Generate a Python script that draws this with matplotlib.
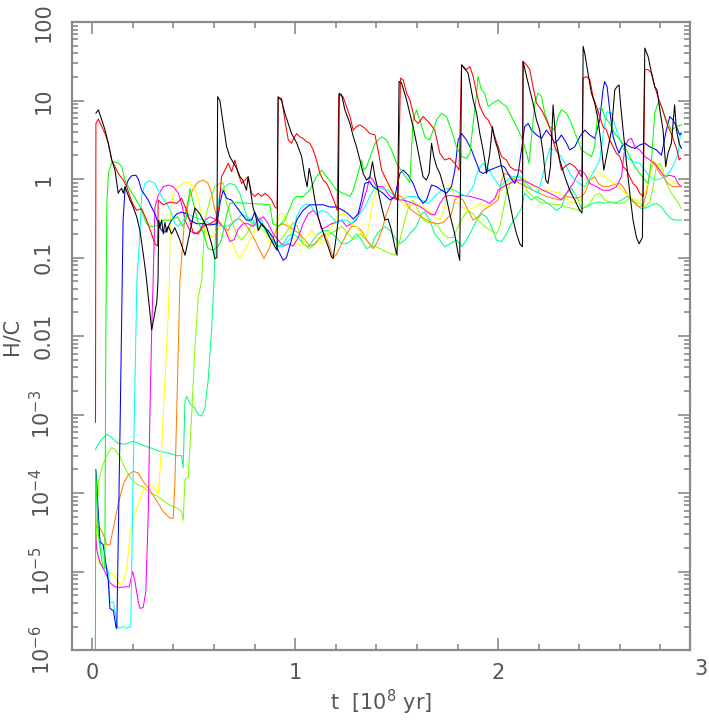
import matplotlib
matplotlib.use("Agg")
import matplotlib.pyplot as plt
import matplotlib.transforms as mtransforms
from matplotlib.ticker import FixedLocator, FixedFormatter, MultipleLocator, NullFormatter
import numpy as np

# ---------------- data (t in 1e8 yr, H/C) ----------------
black_t = [0.018, 0.03, 0.047, 0.063, 0.079, 0.096, 0.112, 0.128, 0.136, 0.145, 0.153, 0.161, 0.186, 0.202,
           0.219, 0.235, 0.251, 0.264, 0.293, 0.318, 0.324, 0.328, 0.333, 0.342, 0.35, 0.358, 0.367, 0.375,
           0.391, 0.407, 0.432, 0.457, 0.49, 0.506, 0.53, 0.563, 0.588, 0.604, 0.614, 0.618, 0.629, 0.645,
           0.662, 0.678, 0.693, 0.711, 0.728, 0.742, 0.76, 0.768, 0.777, 0.792, 0.81, 0.818, 0.834, 0.851,
           0.875, 0.9, 0.911, 0.916, 0.933, 0.949, 0.966, 0.982, 1.007, 1.032, 1.048, 1.059, 1.069, 1.081,
           1.097, 1.113, 1.13, 1.146, 1.163, 1.179, 1.187, 1.2, 1.212, 1.217, 1.229, 1.245, 1.27, 1.286,
           1.302, 1.319, 1.335, 1.352, 1.368, 1.381, 1.393, 1.401, 1.426, 1.442, 1.458, 1.475, 1.491, 1.502,
           1.512, 1.524, 1.549, 1.565, 1.581, 1.598, 1.614, 1.63, 1.647, 1.66, 1.672, 1.683, 1.697, 1.713,
           1.737, 1.762, 1.786, 1.803, 1.811, 1.82, 1.852, 1.877, 1.894, 1.91, 1.926, 1.934, 1.943, 1.959,
           1.972, 1.984, 2.0, 2.017, 2.041, 2.058, 2.074, 2.091, 2.107, 2.12, 2.123, 2.14, 2.156, 2.172,
           2.189, 2.205, 2.222, 2.235, 2.246, 2.258, 2.271, 2.284, 2.304, 2.329, 2.353, 2.378, 2.402, 2.414,
           2.419, 2.427, 2.443, 2.46, 2.476, 2.493, 2.509, 2.521, 2.537, 2.559, 2.575, 2.586, 2.596, 2.603,
           2.616, 2.633, 2.649, 2.665, 2.682, 2.695, 2.711, 2.723, 2.739, 2.756, 2.772, 2.783, 2.797, 2.813,
           2.826, 2.837, 2.854, 2.87, 2.879, 2.892, 2.903]
black_v = [6.9, 7.6, 5.66, 4.2, 2.86, 1.75, 1.3, 0.66, 0.72, 0.76, 0.66, 0.8, 0.54, 0.44,
           0.33, 0.22, 0.113, 0.063, 0.012, 0.027, 0.05, 0.3, 0.24, 0.3, 0.2, 0.28, 0.21, 0.25,
           0.2, 0.24, 0.167, 0.107, 0.27, 0.43, 0.36, 0.25, 0.15, 0.097, 0.1, 11.2, 10, 5.1,
           2.6, 1.93, 1.66, 1.38, 1.07, 0.97, 0.72, 1.07, 0.8, 0.44, 0.3, 0.22, 0.27, 0.24,
           0.18, 0.137, 0.124, 11.2, 10, 6.9, 5.1, 3.8, 2.9, 1.93, 1.07, 0.8, 1.37, 0.97,
           0.54, 0.33, 0.24, 0.18, 0.137, 0.102, 0.097, 0.167, 0.3, 12.4, 11.8, 7.6, 5.1, 3.5,
           2.6, 1.75, 1.18, 0.97, 1.07, 1.66, 1.07, 0.88, 0.44, 0.3, 0.31, 0.22, 0.137, 0.107,
           17.5, 16.7, 10.2, 6.9, 4.65, 2.86, 1.75, 1.07, 0.97, 1.18, 2.86, 1.93, 1.44, 1.18,
           0.72, 0.36, 0.2, 0.113, 0.092, 28.5, 22.4, 10.2, 6.9, 3.8, 2.35, 1.75, 1.18, 2.13,
           4.65, 3.15, 2.35, 1.44, 0.8, 0.49, 0.3, 0.2, 0.15, 0.137, 31.5, 20.3, 13.7, 9.3,
           5.66, 4.2, 2.13, 0.97, 0.88, 1.44, 8.8, 3.15, 1.75, 1.07, 0.72, 0.54, 0.4, 0.37,
           49, 40, 22.4, 12.4, 9.3, 5.66, 2.6, 1.3, 2.13, 4.2, 13.7, 15, 15.8, 9.3,
           4.2, 1.59, 0.66, 0.3, 0.18, 0.15, 0.18, 46.6, 36.5, 22.4, 15, 13.7, 7.6, 4.2,
           1.44, 2.13, 2.86, 8.8, 4.2, 2.86, 2.46]

red_t = [0.016, 0.018, 0.03, 0.047, 0.063, 0.079, 0.096, 0.112, 0.128, 0.153, 0.17, 0.186, 0.202, 0.219,
         0.243, 0.268, 0.292, 0.309, 0.322, 0.325, 0.35, 0.383, 0.416, 0.44, 0.465, 0.497, 0.522, 0.547,
         0.58, 0.61, 0.625, 0.637, 0.654, 0.67, 0.687, 0.703, 0.719, 0.736, 0.752, 0.768, 0.785, 0.801,
         0.818, 0.834, 0.851, 0.865, 0.884, 0.9, 0.911, 0.916, 0.933, 0.949, 0.966, 0.982, 0.99, 1.007,
         1.023, 1.039, 1.056, 1.072, 1.089, 1.105, 1.122, 1.138, 1.155, 1.171, 1.196, 1.207, 1.215, 1.236,
         1.253, 1.27, 1.286, 1.302, 1.319, 1.343, 1.368, 1.393, 1.409, 1.426, 1.45, 1.466, 1.491, 1.507,
         1.519, 1.532, 1.549, 1.565, 1.573, 1.59, 1.606, 1.631, 1.647, 1.663, 1.688, 1.713, 1.737, 1.762,
         1.786, 1.808, 1.82, 1.844, 1.861, 1.877, 1.894, 1.91, 1.934, 1.951, 1.967, 1.984, 2.0, 2.017,
         2.041, 2.058, 2.082, 2.107, 2.12, 2.123, 2.14, 2.156, 2.172, 2.189, 2.214, 2.23, 2.246, 2.263,
         2.279, 2.295, 2.312, 2.329, 2.353, 2.378, 2.402, 2.412, 2.419, 2.435, 2.452, 2.468, 2.485, 2.501,
         2.517, 2.534, 2.55, 2.567, 2.583, 2.6, 2.616, 2.633, 2.649, 2.665, 2.682, 2.698, 2.715, 2.723,
         2.739, 2.756, 2.772, 2.788, 2.805, 2.821, 2.837, 2.854, 2.87, 2.882, 2.892, 2.9]
red_v = [8e-4, 5.1, 5.8, 4.65, 3.8, 2.86, 1.75, 1.44, 1.18, 0.97, 0.8, 0.6, 0.47, 0.4,
         0.42, 0.3, 0.2, 0.15, 0.14, 0.54, 0.47, 0.51, 0.49, 0.57, 0.4, 0.21, 0.2, 0.25,
         0.27, 0.3, 0.44, 1.07, 1.3, 1.59, 1.24, 1.75, 1.18, 0.88, 0.97, 1.07, 0.66, 0.6,
         0.66, 0.6, 0.66, 0.62, 0.54, 0.44, 0.42, 10.7, 10.7, 5.66, 3.15, 2.86, 3.2, 3.8,
         3.45, 3.3, 2.99, 2.86, 2.35, 1.75, 1.18, 0.97, 0.88, 0.72, 0.49, 0.4, 11.8, 11.2,
         8.4, 6.25, 4.2, 4.65, 4.9, 4.45, 3.8, 3.65, 2.3, 1.3, 0.97, 0.8, 0.6, 0.54,
         19.3, 18.4, 12.4, 10.2, 8.4, 5.66, 5.1, 6.25, 5.66, 5.1, 4.2, 2.13, 1.75, 1.84,
         1.59, 1.3, 28.5, 24.7, 27, 20.3, 12.4, 8.4, 6.25, 5.66, 4.65, 3.45, 2.58, 1.93,
         1.75, 1.44, 1.3, 1.3, 1.18, 31.5, 28.5, 24.7, 15, 9.3, 7.6, 6.25, 5.1, 3.8,
         2.58, 2.13, 1.3, 1.44, 1.59, 1.44, 1.18, 1.07, 19.3, 20.3, 18.4, 11.2, 8.4, 6.25,
         4.65, 4.2, 3.15, 2.58, 2.13, 1.93, 1.44, 1.3, 1.07, 0.88, 0.8, 0.66, 0.6, 24.7,
         24.7, 22.4, 15, 11.2, 8.4, 6.25, 4.65, 3.8, 2.86, 2.35, 1.75, 1.84]

green_t = [0.015, 0.017, 0.03, 0.05, 0.062, 0.067, 0.072, 0.08, 0.095, 0.104, 0.128, 0.145, 0.161, 0.177,
           0.202, 0.227, 0.243, 0.268, 0.284, 0.309, 0.325, 0.35, 0.383, 0.42, 0.445, 0.462, 0.481, 0.5,
           0.522, 0.547, 0.571, 0.596, 0.621, 0.637, 0.662, 0.678, 0.72, 0.777, 0.83, 0.875, 0.89, 0.916,
           0.949, 0.99, 1.007, 1.039, 1.072, 1.105, 1.13, 1.155, 1.179, 1.204, 1.236, 1.27, 1.286, 1.31,
           1.327, 1.338, 1.352, 1.376, 1.393, 1.426, 1.45, 1.475, 1.5, 1.532, 1.557, 1.565, 1.581, 1.598,
           1.614, 1.639, 1.663, 1.697, 1.721, 1.745, 1.77, 1.795, 1.82, 1.844, 1.861, 1.877, 1.894, 1.901,
           1.918, 1.934, 1.951, 1.975, 2.0, 2.017, 2.041, 2.066, 2.091, 2.115, 2.14, 2.152, 2.165, 2.181,
           2.197, 2.214, 2.23, 2.254, 2.279, 2.296, 2.312, 2.337, 2.362, 2.386, 2.411, 2.435, 2.46, 2.476,
           2.493, 2.509, 2.525, 2.55, 2.575, 2.6, 2.625, 2.649, 2.674, 2.698, 2.723, 2.739, 2.756, 2.772,
           2.788, 2.805, 2.829, 2.854, 2.879, 2.903]
green_v = [1e-7, 2e-4, 3e-5, 1.2e-5, 1.1e-5, 0.01, 0.5, 1.2, 1.6, 1.66, 1.6, 1.44, 0.97, 0.8,
           0.62, 0.49, 0.4, 0.27, 0.25, 0.25, 0.26, 0.3, 0.3, 0.33, 0.25, 0.3, 0.76, 0.47,
           0.28, 0.21, 0.13, 0.124, 0.14, 0.17, 0.35, 0.49, 0.5, 0.49, 0.48, 0.47, 0.27, 0.25,
           0.3, 0.54, 0.6, 0.6, 0.72, 1.07, 1.3, 1.07, 0.88, 0.72, 0.66, 0.6, 0.72, 1.18,
           1.75, 1.3, 1.44, 2.13, 2.86, 3.45, 3.15, 2.35, 1.59, 1.18, 0.97, 0.9, 5.66, 7.6,
           5.66, 3.45, 3.15, 5.66, 6.9, 6.25, 4.2, 2.58, 1.93, 1.84, 2.13, 5.1, 12.4, 20.3,
           13.7, 12.4, 8.4, 9.3, 10.2, 9.3, 8.4, 6.25, 4.65, 3.45, 2.13, 1.59, 3.45, 9.3,
           12.4, 11.2, 6.9, 4.65, 4.2, 6.25, 7.6, 6.9, 5.1, 3.45, 2.35, 2.13, 1.93, 2.58,
           7.6, 8.4, 6.25, 5.1, 3.8, 3.15, 2.58, 1.93, 1.44, 1.18, 0.97, 0.88, 1.75, 6.9,
           9.3, 8.4, 5.66, 4.2, 4.65, 4.9]

blue_t = [0.017, 0.02, 0.03, 0.038, 0.054, 0.079, 0.087, 0.104, 0.118, 0.121, 0.138, 0.152, 0.161, 0.177,
          0.194, 0.215, 0.227, 0.243, 0.26, 0.276, 0.292, 0.309, 0.33, 0.342, 0.358, 0.375, 0.391, 0.416,
          0.44, 0.465, 0.481, 0.514, 0.547, 0.58, 0.615, 0.63, 0.645, 0.662, 0.686, 0.711, 0.736, 0.76,
          0.785, 0.801, 0.818, 0.843, 0.867, 0.892, 0.916, 0.941, 0.957, 0.982, 1.007, 1.039, 1.072, 1.105,
          1.138, 1.171, 1.204, 1.236, 1.261, 1.286, 1.31, 1.327, 1.343, 1.368, 1.384, 1.433, 1.467, 1.491,
          1.516, 1.532, 1.557, 1.581, 1.606, 1.63, 1.647, 1.672, 1.697, 1.721, 1.746, 1.77, 1.787, 1.803,
          1.82, 1.844, 1.869, 1.894, 1.91, 1.926, 1.959, 2.0, 2.017, 2.033, 2.058, 2.082, 2.099, 2.115,
          2.131, 2.148, 2.165, 2.189, 2.214, 2.238, 2.263, 2.279, 2.296, 2.312, 2.337, 2.353, 2.378, 2.402,
          2.427, 2.452, 2.476, 2.501, 2.517, 2.525, 2.537, 2.55, 2.567, 2.583, 2.596, 2.608, 2.625, 2.649,
          2.674, 2.698, 2.723, 2.747, 2.78, 2.805, 2.829, 2.846, 2.862, 2.879, 2.895, 2.903]
blue_v = [2e-4, 1.7e-4, 5.5e-5, 2.4e-5, 2.2e-5, 7.6e-6, 3.4e-6, 3.2e-6, 1.9e-6, 1.9e-6, 1e-3, 0.3, 0.72, 0.97,
          1.1, 1.12, 1.0, 0.72, 0.62, 0.54, 0.44, 0.36, 0.25, 0.22, 0.21, 0.25, 0.3, 0.36,
          0.38, 0.36, 0.3, 0.27, 0.27, 0.26, 0.27, 0.5, 0.72, 0.57, 0.54, 0.44, 0.36, 0.3,
          0.3, 0.38, 0.3, 0.25, 0.22, 0.18, 0.124, 0.092, 0.1, 0.167, 0.3, 0.4, 0.47, 0.47,
          0.47, 0.44, 0.44, 0.4, 0.36, 0.31, 0.36, 0.54, 0.88, 0.92, 0.8, 0.66, 0.54, 0.6,
          1.18, 1.3, 1.12, 0.88, 0.6, 0.49, 0.54, 0.84, 0.8, 0.72, 0.66, 0.8, 1.3, 3.15,
          3.8, 3.15, 2.35, 1.59, 1.24, 1.18, 1.3, 1.44, 1.5, 1.4, 1.07, 0.88, 1.18, 2.35,
          4.65, 5.1, 4.2, 3.65, 3.3, 4.2, 3.45, 2.86, 3.15, 3.65, 2.86, 2.35, 2.58, 3.45,
          4.2, 3.65, 3.3, 5.66, 13.7, 17.5, 15, 7.6, 3.45, 2.58, 2.13, 2.58, 2.86, 2.58,
          2.46, 2.72, 2.86, 2.58, 2.35, 2.02, 4.2, 6.25, 5.66, 4.65, 3.65, 3.8]

cyan_t = [0.016, 0.03, 0.047, 0.063, 0.079, 0.087, 0.104, 0.112, 0.123, 0.136, 0.152, 0.169, 0.19, 0.2,
          0.22, 0.235, 0.243, 0.26, 0.284, 0.309, 0.325, 0.342, 0.367, 0.391, 0.407, 0.424, 0.448, 0.473,
          0.497, 0.547, 0.58, 0.613, 0.645, 0.662, 0.686, 0.711, 0.736, 0.76, 0.793, 0.81, 0.834, 0.851,
          0.875, 0.9, 0.933, 0.982, 1.007, 1.032, 1.056, 1.081, 1.105, 1.13, 1.155, 1.179, 1.204, 1.229,
          1.253, 1.277, 1.294, 1.319, 1.343, 1.368, 1.384, 1.401, 1.43, 1.458, 1.491, 1.524, 1.557, 1.59,
          1.622, 1.655, 1.688, 1.721, 1.754, 1.787, 1.811, 1.844, 1.877, 1.901, 1.926, 1.951, 1.975, 2.009,
          2.041, 2.074, 2.107, 2.14, 2.172, 2.197, 2.222, 2.238, 2.254, 2.279, 2.304, 2.329, 2.353, 2.378,
          2.402, 2.427, 2.476, 2.501, 2.52, 2.537, 2.559, 2.583, 2.608, 2.633, 2.665, 2.698, 2.723, 2.747,
          2.772, 2.797, 2.821, 2.846, 2.87, 2.887, 2.899, 2.903]
cyan_v = [1.6e-4, 3.6e-5, 1.8e-5, 1.3e-5, 1e-5, 4.1e-6, 4.1e-6, 3e-6, 2e-6, 1.9e-6, 2e-6, 1.9e-6, 2e-6, 1e-4,
          0.05, 0.2, 0.6, 0.88, 0.95, 0.88, 0.72, 0.6, 0.49, 0.36, 0.27, 0.25, 0.3, 0.36,
          0.33, 0.3, 0.27, 0.26, 0.25, 0.25, 0.27, 0.3, 0.36, 0.33, 0.3, 0.25, 0.3, 0.22,
          0.18, 0.15, 0.137, 0.18, 0.33, 0.44, 0.49, 0.44, 0.36, 0.4, 0.38, 0.33, 0.28, 0.3,
          0.3, 0.27, 0.3, 0.36, 0.44, 0.6, 0.72, 0.8, 0.75, 0.72, 0.6, 0.54, 0.6, 0.6,
          0.54, 0.49, 0.6, 0.72, 0.76, 0.72, 0.66, 0.6, 0.8, 1.3, 1.59, 1.37, 1.07, 0.8,
          0.97, 1.07, 1.07, 0.88, 0.72, 0.66, 1.18, 1.75, 2.46, 2.35, 2.02, 1.59, 1.18, 0.97,
          0.88, 0.8, 1.3, 1.75, 4.2, 7.2, 6.9, 4.2, 2.86, 1.93, 1.66, 1.59, 1.3, 1.07,
          0.97, 1.0, 1.07, 1.24, 1.59, 2.13, 3.8, 4.0]

magenta_t = [0.017, 0.022, 0.038, 0.054, 0.071, 0.087, 0.112, 0.136, 0.161, 0.182, 0.199, 0.21, 0.227, 0.235,
             0.251, 0.264, 0.276, 0.284, 0.293, 0.3, 0.309, 0.325, 0.35, 0.375, 0.399, 0.424, 0.44, 0.457,
             0.481, 0.506, 0.53, 0.555, 0.58, 0.604, 0.629, 0.654, 0.678, 0.7, 0.719, 0.744, 0.768, 0.793,
             0.818, 0.843, 0.867, 0.892, 0.916, 0.941, 0.966, 0.99, 1.015, 1.039, 1.064, 1.089, 1.113, 1.13,
             1.146, 1.179, 1.204, 1.229, 1.253, 1.277, 1.302, 1.327, 1.352, 1.368, 1.384, 1.401, 1.433, 1.467,
             1.5, 1.532, 1.565, 1.598, 1.631, 1.663, 1.688, 1.713, 1.737, 1.762, 1.795, 1.828, 1.861, 1.894,
             1.926, 1.959, 1.984, 2.0, 2.025, 2.058, 2.091, 2.123, 2.156, 2.189, 2.222, 2.254, 2.287, 2.312,
             2.337, 2.37, 2.402, 2.427, 2.452, 2.485, 2.517, 2.55, 2.583, 2.608, 2.625, 2.641, 2.657, 2.674,
             2.698, 2.723, 2.747, 2.772, 2.797, 2.821, 2.846, 2.87, 2.887, 2.903]
magenta_v = [3e-5, 1.9e-5, 1.3e-5, 1.1e-5, 9e-6, 7.2e-6, 6.4e-6, 6.3e-6, 6.4e-6, 6.4e-6, 1e-5, 7.6e-6, 4.1e-6, 3.4e-6,
             3.5e-6, 5.6e-6, 5.5e-5, 1e-3, 0.012, 0.05, 0.44, 0.62, 0.8, 0.84, 0.8, 0.66, 0.49, 0.3,
             0.22, 0.2, 0.22, 0.3, 0.33, 0.31, 0.27, 0.23, 0.16, 0.17, 0.23, 0.27, 0.27, 0.25,
             0.3, 0.33, 0.27, 0.2, 0.167, 0.14, 0.15, 0.14, 0.18, 0.27, 0.36, 0.4, 0.33, 0.23,
             0.24, 0.27, 0.28, 0.3, 0.25, 0.27, 0.3, 0.44, 0.72, 1.07, 0.97, 0.8, 0.8, 0.6,
             0.55, 0.54, 0.51, 0.47, 0.42, 0.36, 0.35, 0.49, 0.6, 0.62, 0.6, 0.62, 0.6, 0.57,
             0.54, 0.49, 0.57, 0.72, 0.8, 0.88, 0.97, 0.97, 0.88, 0.8, 0.72, 0.66, 0.6, 0.54,
             0.66, 0.88, 1.3, 1.18, 0.88, 0.8, 0.72, 0.72, 0.8, 1.07, 2.58, 3.15, 3.3, 2.58,
             2.35, 1.93, 1.75, 1.59, 1.3, 1.07, 1.12, 1.07, 0.88, 0.8]

yellow_t = [0.017, 0.03, 0.054, 0.079, 0.104, 0.128, 0.14, 0.153, 0.17, 0.186, 0.202, 0.227, 0.251, 0.276,
            0.3, 0.325, 0.342, 0.358, 0.375, 0.38, 0.385, 0.399, 0.424, 0.448, 0.473, 0.497, 0.514, 0.53,
            0.547, 0.563, 0.588, 0.613, 0.637, 0.662, 0.686, 0.711, 0.728, 0.752, 0.777, 0.801, 0.826, 0.851,
            0.875, 0.9, 0.924, 0.941, 0.957, 0.982, 1.007, 1.032, 1.056, 1.081, 1.105, 1.13, 1.155, 1.179,
            1.204, 1.229, 1.253, 1.277, 1.302, 1.327, 1.352, 1.368, 1.384, 1.401, 1.433, 1.458, 1.483, 1.516,
            1.549, 1.598, 1.631, 1.655, 1.688, 1.713, 1.737, 1.754, 1.77, 1.787, 1.82, 1.852, 1.885, 1.918,
            1.943, 1.992, 2.017, 2.041, 2.074, 2.107, 2.14, 2.172, 2.205, 2.238, 2.271, 2.304, 2.329, 2.353,
            2.378, 2.402, 2.427, 2.452, 2.476, 2.501, 2.525, 2.55, 2.575, 2.6, 2.625, 2.649, 2.698, 2.723,
            2.747, 2.764, 2.78, 2.805, 2.829, 2.854, 2.879, 2.903]
yellow_v = [3e-5, 1.3e-5, 1.2e-5, 1e-5, 9e-6, 7.4e-6, 6.8e-6, 7.4e-6, 1.1e-5, 3e-5, 4.8e-5, 7.3e-5, 1.1e-4, 1.3e-4,
            1.25e-4, 9.7e-5, 3.8e-4, 2.7e-3, 0.02, 0.05, 0.36, 0.66, 0.8, 0.88, 0.92, 0.8, 0.66, 0.44,
            0.27, 0.2, 0.18, 0.22, 0.27, 0.22, 0.167, 0.11, 0.1, 0.124, 0.167, 0.22, 0.25, 0.2,
            0.15, 0.22, 0.36, 0.36, 0.3, 0.2, 0.15, 0.14, 0.18, 0.22, 0.18, 0.15, 0.18, 0.25,
            0.33, 0.36, 0.35, 0.27, 0.25, 0.2, 0.18, 0.3, 0.54, 0.72, 0.84, 0.8, 0.66, 0.54,
            0.44, 0.49, 0.44, 0.4, 0.33, 0.3, 0.44, 0.8, 0.8, 0.6, 0.44, 0.4, 0.44, 0.49,
            0.44, 0.6, 0.72, 0.88, 1.07, 1.12, 0.95, 0.8, 0.72, 0.72, 0.69, 0.66, 0.6, 0.51,
            0.49, 0.51, 0.8, 1.18, 1.3, 1.18, 1.07, 0.97, 0.88, 0.8, 0.66, 0.6, 0.51, 0.66,
            1.07, 1.75, 1.59, 1.3, 1.07, 0.97, 0.88, 0.8]

orange_t = [0.017, 0.038, 0.054, 0.071, 0.087, 0.104, 0.128, 0.153, 0.177, 0.202, 0.227, 0.251, 0.284, 0.317,
            0.35, 0.383, 0.399, 0.407, 0.416, 0.432, 0.457, 0.473, 0.498, 0.522, 0.547, 0.571, 0.588, 0.604,
            0.621, 0.645, 0.67, 0.678, 0.703, 0.727, 0.752, 0.777, 0.801, 0.826, 0.846, 0.867, 0.892, 0.916,
            0.941, 0.966, 1.023, 1.048, 1.072, 1.097, 1.122, 1.146, 1.171, 1.187, 1.204, 1.229, 1.253, 1.278,
            1.302, 1.327, 1.352, 1.384, 1.401, 1.426, 1.45, 1.475, 1.5, 1.524, 1.549, 1.573, 1.606, 1.639,
            1.672, 1.704, 1.729, 1.77, 1.787, 1.803, 1.828, 1.852, 1.877, 1.901, 1.926, 1.951, 2.0, 2.017,
            2.033, 2.058, 2.082, 2.107, 2.14, 2.172, 2.205, 2.238, 2.271, 2.304, 2.337, 2.386, 2.411, 2.427,
            2.452, 2.476, 2.493, 2.517, 2.542, 2.567, 2.6, 2.616, 2.633, 2.657, 2.682, 2.698, 2.715, 2.731,
            2.747, 2.764, 2.78, 2.797, 2.813, 2.837, 2.862, 2.903]
orange_v = [3.8e-5, 3.6e-5, 3e-5, 2.2e-5, 2.2e-5, 3.6e-5, 7.3e-5, 1.3e-4, 1.7e-4, 1.9e-4, 1.8e-4, 1.4e-4, 1.1e-4, 8e-5,
            5.8e-5, 4.8e-5, 4.8e-5, 1.3e-4, 1e-3, 0.05, 0.36, 0.54, 0.76, 0.92, 0.97, 0.88, 0.66, 0.4,
            0.3, 0.25, 0.22, 0.25, 0.3, 0.31, 0.27, 0.22, 0.167, 0.124, 0.097, 0.124, 0.18, 0.25,
            0.27, 0.25, 0.2, 0.167, 0.14, 0.15, 0.18, 0.2, 0.137, 0.1, 0.11, 0.15, 0.2, 0.25,
            0.25, 0.22, 0.167, 0.13, 0.15, 0.22, 0.36, 0.54, 0.62, 0.6, 0.49, 0.4, 0.35, 0.31,
            0.28, 0.27, 0.28, 0.36, 0.54, 0.6, 0.54, 0.4, 0.3, 0.33, 0.4, 0.44, 0.54, 0.97,
            1.18, 1.12, 0.97, 0.88, 0.8, 0.72, 0.66, 0.6, 0.57, 0.54, 0.6, 0.57, 0.6, 0.66,
            0.97, 1.07, 0.88, 0.8, 0.8, 0.84, 0.88, 0.8, 0.66, 0.54, 0.47, 0.44, 0.47, 0.66,
            1.18, 1.59, 1.44, 1.18, 1.07, 0.88, 0.8, 0.8]

chart_t = [0.017, 0.03, 0.047, 0.071, 0.095, 0.112, 0.136, 0.161, 0.186, 0.218, 0.251, 0.284, 0.317, 0.35,
           0.383, 0.416, 0.44, 0.448, 0.457, 0.473, 0.49, 0.506, 0.522, 0.539, 0.555, 0.58, 0.604, 0.629,
           0.645, 0.662, 0.687, 0.711, 0.736, 0.76, 0.79, 0.82, 0.85, 0.88, 0.9, 0.93, 0.96, 0.99,
           1.01, 1.04, 1.07, 1.1, 1.14, 1.17, 1.2, 1.23, 1.26, 1.29, 1.32, 1.35, 1.376, 1.401,
           1.433, 1.467, 1.491, 1.516, 1.54, 1.565, 1.581, 1.606, 1.631, 1.655, 1.68, 1.704, 1.729, 1.754,
           1.778, 1.803, 1.828, 1.852, 1.877, 1.901, 1.934, 1.967, 1.992, 2.009, 2.025, 2.041, 2.066, 2.091,
           2.123, 2.14, 2.172, 2.205, 2.238, 2.271, 2.304, 2.337, 2.37, 2.402, 2.427, 2.452, 2.476, 2.501,
           2.525, 2.55, 2.575, 2.6, 2.625, 2.649, 2.674, 2.698, 2.723, 2.747, 2.764, 2.78, 2.797, 2.813,
           2.829, 2.854, 2.879, 2.903]
chart_v = [2e-5, 1.4e-4, 2.1e-4, 3e-4, 3.8e-4, 3.6e-4, 2.9e-4, 2.1e-4, 1.6e-4, 1.3e-4, 1.2e-4, 1e-4, 9.3e-5, 8e-5,
           7e-5, 6.5e-5, 5.8e-5, 4.5e-5, 1.5e-4, 1.6e-4, 1e-3, 7e-3, 0.031, 0.051, 0.3, 0.54, 0.8, 0.88,
           0.9, 0.49, 0.3, 0.2, 0.167, 0.2, 0.27, 0.33, 0.25, 0.17, 0.15, 0.17, 0.22, 0.28,
           0.25, 0.15, 0.13, 0.15, 0.2, 0.2, 0.22, 0.25, 0.2, 0.17, 0.2, 0.17, 0.14, 0.137,
           0.124, 0.113, 0.107, 0.167, 0.3, 0.49, 0.54, 0.4, 0.3, 0.28, 0.28, 0.25, 0.2, 0.18,
           0.18, 0.25, 0.33, 0.4, 0.36, 0.3, 0.25, 0.22, 0.2, 0.25, 0.4, 0.66, 0.97, 1.07,
           1.0, 0.72, 0.6, 0.51, 0.49, 0.48, 0.47, 0.44, 0.42, 0.4, 0.44, 0.49, 0.62, 0.66,
           0.54, 0.51, 0.49, 0.49, 0.5, 0.57, 0.5, 0.49, 0.44, 0.51, 0.8, 1.44, 1.59, 1.3,
           0.88, 0.66, 0.54, 0.42]

spring_t = [0.016, 0.038, 0.071, 0.095, 0.128, 0.161, 0.202, 0.235, 0.284, 0.333, 0.383, 0.416, 0.44, 0.448,
            0.457, 0.465, 0.481, 0.506, 0.522, 0.539, 0.555, 0.571, 0.588, 0.6, 0.61, 0.63, 0.654, 0.678,
            0.703, 0.727, 0.752, 0.768, 0.793, 0.818, 0.843, 0.867, 0.892, 0.916, 0.941, 0.966, 0.99, 1.015,
            1.039, 1.064, 1.089, 1.113, 1.138, 1.163, 1.204, 1.229, 1.253, 1.278, 1.302, 1.327, 1.352, 1.376,
            1.392, 1.417, 1.442, 1.467, 1.491, 1.516, 1.54, 1.565, 1.598, 1.622, 1.639, 1.663, 1.688, 1.713,
            1.737, 1.762, 1.795, 1.82, 1.844, 1.869, 1.894, 1.918, 1.943, 1.967, 1.992, 2.017, 2.041, 2.066,
            2.115, 2.131, 2.165, 2.189, 2.222, 2.254, 2.287, 2.312, 2.337, 2.362, 2.386, 2.411, 2.435, 2.468,
            2.501, 2.525, 2.55, 2.583, 2.608, 2.633, 2.657, 2.682, 2.706, 2.731, 2.756, 2.78, 2.805, 2.829,
            2.854, 2.879, 2.903]
spring_v = [3.6e-4, 4.6e-4, 5.6e-4, 5.1e-4, 4.3e-4, 4.2e-4, 4.6e-4, 4.2e-4, 3.8e-4, 3.4e-4, 3.2e-4, 3e-4, 3e-4, 2.1e-4,
            1.5e-3, 1.7e-3, 1.4e-3, 1.2e-3, 1e-3, 9.6e-4, 1.2e-3, 2.7e-3, 0.012, 0.051, 0.3, 0.7, 0.8, 0.88,
            0.84, 0.66, 0.4, 0.3, 0.27, 0.25, 0.25, 0.22, 0.167, 0.137, 0.15, 0.19, 0.2, 0.18,
            0.15, 0.137, 0.167, 0.2, 0.22, 0.22, 0.18, 0.15, 0.15, 0.167, 0.2, 0.167, 0.13, 0.14,
            0.18, 0.22, 0.25, 0.22, 0.18, 0.15, 0.167, 0.2, 0.25, 0.36, 0.38, 0.3, 0.2, 0.167,
            0.137, 0.15, 0.167, 0.137, 0.167, 0.22, 0.3, 0.36, 0.33, 0.25, 0.167, 0.16, 0.2, 0.27,
            0.42, 0.66, 0.54, 0.6, 0.54, 0.47, 0.4, 0.44, 0.66, 0.76, 0.6, 0.42, 0.44, 0.49,
            0.51, 0.49, 0.51, 0.5, 0.54, 0.6, 0.58, 0.47, 0.42, 0.43, 0.47, 0.49, 0.44, 0.36,
            0.31, 0.3, 0.3]

series = [
    (spring_t, spring_v, "#00ff80"),
    (chart_t, chart_v, "#80ff00"),
    (orange_t, orange_v, "#ff8000"),
    (yellow_t, yellow_v, "#ffff00"),
    (magenta_t, magenta_v, "#ff00ff"),
    (cyan_t, cyan_v, "#00ffff"),
    (blue_t, blue_v, "#0000ff"),
    (green_t, green_v, "#00ff00"),
    (red_t, red_v, "#ff0000"),
    (black_t, black_v, "#000000"),
]

ytick_vals = [1e-6, 1e-5, 1e-4, 1e-3, 1e-2, 1e-1, 1, 10, 100]
ytick_labels = [r"$10^{-6}$", r"$10^{-5}$", r"$10^{-4}$", r"$10^{-3}$", "0.01", "0.1", "1", "10", "100"]
xtick_vals = [0, 1, 2]
xtick_labels = ["0", "1", "2"]

# ---------------- figure ----------------
plt.rcParams['font.family'] = ['DejaVu Sans']
plt.rcParams['mathtext.fontset'] = 'dejavusans'
TXT = "#555555"
SP = "#8a8a8a"

fig = plt.figure(figsize=(7.09, 7.22), dpi=100)
ax = fig.add_axes([0.1015, 0.0995, 0.8715, 0.87])

for t, v, c in series:
    ax.plot(t, v, color=c, lw=0.75, solid_joinstyle='round')

ax.set_yscale('log')
ax.set_xlim(-0.1, 2.945)
ax.set_ylim(1e-6, 100)

ax.yaxis.set_major_locator(FixedLocator(ytick_vals))
ax.yaxis.set_major_formatter(FixedFormatter(ytick_labels))
minor = [m * 10.0 ** e for e in range(-6, 2) for m in range(2, 10)]
ax.yaxis.set_minor_locator(FixedLocator(minor))
ax.yaxis.set_minor_formatter(NullFormatter())
ax.xaxis.set_major_locator(FixedLocator(xtick_vals))
ax.xaxis.set_major_formatter(FixedFormatter(xtick_labels))
ax.xaxis.set_minor_locator(MultipleLocator(0.2))

ax.tick_params(which='both', direction='in', top=True, right=True, color=SP, width=1.2,
               labelcolor=TXT, labelsize=15)
ax.tick_params(which='major', length=8.5)
ax.tick_params(which='minor', length=4.5)
ax.tick_params(axis='y', which='major', pad=13)
ax.tick_params(axis='x', which='major', pad=9)
for lab in ax.get_yticklabels():
    lab.set_rotation(90)
    lab.set_va('center')
    lab.set_ha('right')

for s in ax.spines.values():
    s.set_color(SP)
    s.set_linewidth(1.6)

# tick label at x=3 lies beyond the frame
trans = mtransforms.blended_transform_factory(ax.transData, ax.transAxes)
ax.text(3, -0.0145, "3", transform=trans, ha='center', va='top', color=TXT, fontsize=15, clip_on=False)

ax.set_xlabel(r"t  [10$^8$ yr]", color=TXT, fontsize=15, labelpad=4)
ax.set_ylabel("H/C", color=TXT, fontsize=15)
ax.yaxis.set_label_coords(-0.082, 0.5)

fig.savefig("out.png", dpi=100)
